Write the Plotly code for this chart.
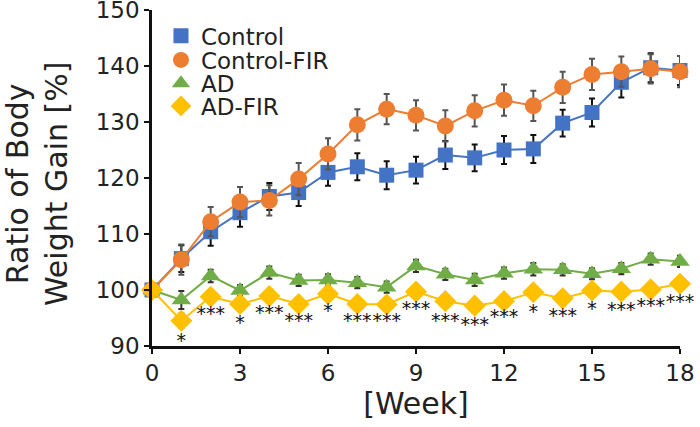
import plotly.graph_objects as go

weeks = list(range(0, 19))

control = [100, 105.6, 110.4, 113.8, 116.7, 117.4, 121.0, 122.0, 120.5, 121.4, 124.1,
           123.6, 125.0, 125.2, 129.8, 131.7, 137.1, 139.7, 139.2]
control_err = [0, 2.4, 2.5, 2.5, 2.4, 2.4, 2.4, 2.4, 2.5, 2.4, 2.5,
               2.4, 2.5, 2.5, 2.4, 2.5, 2.7, 2.6, 2.6]

control_fir = [100, 105.4, 112.2, 115.7, 116.0, 119.8, 124.3, 129.5, 132.3, 131.2, 129.3,
               132.0, 133.9, 132.9, 136.2, 138.5, 139.0, 139.5, 139.0]
control_fir_err = [0, 2.7, 2.6, 2.7, 2.7, 2.9, 2.8, 2.8, 2.7, 2.7, 2.8,
                   2.8, 2.8, 2.7, 2.8, 2.8, 2.7, 2.6, 2.8]

ad = [100, 98.2, 102.5, 99.9, 103.1, 101.7, 101.8, 101.3, 100.5, 104.3, 102.8,
      101.8, 103.0, 103.7, 103.6, 102.9, 103.8, 105.5, 105.1]
ad_err = [0.8, 1.6, 1.1, 1.0, 1.1, 1.0, 1.0, 1.0, 1.0, 1.1, 1.0,
          1.1, 1.0, 1.1, 1.0, 1.0, 1.0, 1.0, 1.0]

ad_fir = [100, 94.5, 98.8, 97.5, 98.9, 97.5, 99.3, 97.5, 97.4, 99.7, 98.0,
          97.2, 98.0, 99.6, 98.5, 99.9, 99.7, 100.1, 101.1]
ad_fir_err = [0.8, 1.3, 0.9, 0.9, 0.9, 0.9, 0.9, 0.9, 0.9, 1.0, 0.9,
              1.0, 0.9, 1.0, 0.9, 0.9, 0.9, 0.9, 0.9]

star_weeks = list(range(1, 19))
star_labels = ["*", "***", "*", "***", "***", "*", "***", "***", "***", "***",
               "***", "***", "*", "***", "*", "***", "***", "***"]
star_y = [90.7, 95.4, 93.8, 95.7, 94.2, 96.0, 94.2, 94.2, 96.3, 94.2,
          93.6, 95.0, 95.9, 95.2, 96.4, 96.2, 97.0, 97.6]

x_ticks = [0, 3, 6, 9, 12, 15, 18]
y_ticks = [90, 100, 110, 120, 130, 140, 150]

FONT = "DejaVu Sans"

fig = go.Figure()

def add_series(name, y, err, color, symbol, size, errcolor, legend):
    # connecting line (not in legend)
    fig.add_trace(go.Scatter(
        x=weeks, y=y, mode="lines", line=dict(color=color, width=2),
        showlegend=False, hoverinfo="skip", cliponaxis=False,
    ))
    # markers with error bars (legend entry shows marker only)
    fig.add_trace(go.Scatter(
        x=weeks, y=y, name=name, mode="markers",
        marker=dict(color=color, symbol=symbol, size=size, line=dict(width=0)),
        error_y=dict(type="data", array=err, visible=True, color=errcolor,
                     thickness=2, width=3),
        cliponaxis=False, legend=legend,
    ))

add_series("Control", control, control_err, "#4472C4", "square", 15, "#111111", "legend")
add_series("Control-FIR", control_fir, control_fir_err, "#ED7D31", "circle", 17, "#555555", "legend2")
add_series("AD", ad, ad_err, "#70AD47", "triangle-up", 17, "#333333", "legend3")
add_series("AD-FIR", ad_fir, ad_fir_err, "#FFC000", "diamond", 17, "#333333", "legend4")

fig.add_trace(go.Scatter(
    x=star_weeks, y=star_y, mode="text", text=star_labels,
    textfont=dict(family=FONT, size=19, color="#111111"),
    textposition="middle center", showlegend=False, cliponaxis=False,
))

axis_font = dict(family=FONT, size=23, color="#222222")

legend_common = dict(
    x=0.017, xanchor="left", yanchor="middle",
    font=dict(family=FONT, size=23, color="#222222"),
    bgcolor="rgba(0,0,0,0)", borderwidth=0, itemsizing="trace",
)

fig.update_layout(
    width=700, height=427,
    margin=dict(l=152, r=20, t=10, b=81, autoexpand=False),
    paper_bgcolor="white", plot_bgcolor="white",
    font=dict(family=FONT, color="#222222"),
    legend=dict(y=0.9235, **legend_common),
    legend2=dict(y=0.8512, **legend_common),
    legend3=dict(y=0.7818, **legend_common),
    legend4=dict(y=0.7143, **legend_common),
    xaxis=dict(
        range=[0, 18], tickvals=x_ticks, ticktext=[str(v) for v in x_ticks],
        showline=True, linecolor="#111111", linewidth=2.5,
        ticks="outside", ticklen=5, tickwidth=2, tickcolor="#111111",
        showgrid=False, zeroline=False, tickfont=axis_font,
        ticklabeloverflow="allow", automargin=False,
        title=dict(text="[Week]", font=dict(family=FONT, size=30, color="#222222"), standoff=4),
    ),
    yaxis=dict(
        range=[89.99, 150.01], tickvals=y_ticks, ticktext=[str(v) for v in y_ticks],
        showline=True, linecolor="#111111", linewidth=2.5,
        ticks="outside", ticklen=5, tickwidth=2, tickcolor="#111111",
        showgrid=False, zeroline=False, tickfont=axis_font,
        ticklabeloverflow="allow", automargin=False,
    ),
    xaxis2=dict(
        overlaying="x", anchor="y", side="bottom", range=[0, 18],
        tickvals=x_ticks, ticks="inside", ticklen=4, tickwidth=2, tickcolor="#111111",
        showticklabels=False, showline=False, showgrid=False, zeroline=False,
        automargin=False,
    ),
    yaxis2=dict(
        overlaying="y", anchor="x", side="left", range=[89.99, 150.01],
        tickvals=y_ticks, ticks="inside", ticklen=4, tickwidth=2, tickcolor="#111111",
        showticklabels=False, showline=False, showgrid=False, zeroline=False,
        automargin=False,
    ),
    annotations=[dict(
        text="Ratio of Body<br>Weight Gain [%]", textangle=-90,
        xref="paper", yref="paper", x=-0.2178, y=0.482,
        xanchor="center", yanchor="middle", showarrow=False,
        font=dict(family=FONT, size=30, color="#222222"),
    )],
)

fig.write_html(
    "out.html",
    config={"displayModeBar": False},
    post_script="document.body.style.margin='0';document.body.style.overflow='hidden';",
)
